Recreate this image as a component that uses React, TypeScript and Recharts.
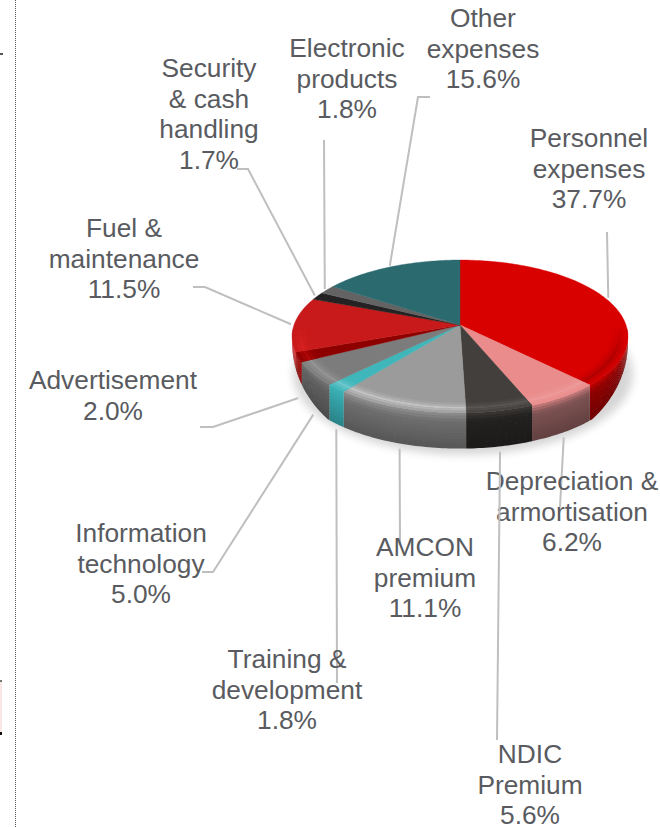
import { Pie, PieChart } from "recharts"

// values, clockwise from 12 o'clock
const categories = [
  "Personnel\nexpenses",
  "Depreciation &\narmortisation",
  "NDIC\nPremium",
  "AMCON\npremium",
  "Training &\ndevelopment",
  "Information\ntechnology",
  "Advertisement",
  "Fuel &\nmaintenance",
  "Security\n& cash\nhandling",
  "Electronic\nproducts",
  "Other\nexpenses",
]
const shares = [37.7, 6.2, 5.6, 11.1, 1.8, 5.0, 2.0, 11.5, 1.7, 1.8, 15.6]

const faceColors = [
  "#d90000", "#ea8c8c", "#433f3c", "#9b9b9b", "#3fb6ba", "#7c7c7c",
  "#8e0000", "#c81a1a", "#242222", "#636363", "#2b6a6f",
]
const sideColors = [
  "#8f0000", "#7d5252", "#232120", "#6e6e6e", "#35a6ab", "#5f5f5f",
  "#a00000", "#c81818", "#1a1a1a", "#444444", "#1f4d50",
]
// what the bevel along the front rim fades towards, and how far
const rimTints = [
  "#800000", "#ffffff", "#ffffff", "#ffffff", "#ffffff", "#ffffff",
  "#d01010", "#ee2a2a", "#000000", "#000000", "#000000",
]
const rimStrength = [0.45, 0.12, 0.12, 0.4, 0.25, 0.18, 0.5, 0.5, 0, 0, 0]

const chartData = categories.map((name, i) => ({ name, value: shares[i] }))

// where each label sits and the bend points of its leader line
const labelLayout = [
  { x: 589, y: 138, bends: [[607, 232]] },
  { x: 572, y: 481, bends: [[560, 507]] },
  { x: 530, y: 754, bends: [[497, 740]] },
  { x: 425, y: 547, bends: [[400, 545]] },
  { x: 287, y: 659, bends: [[337, 683]] },
  { x: 141, y: 533, bends: [[213, 572], [202, 572]] },
  { x: 113, y: 380, bends: [[213, 427], [200, 427]] },
  { x: 124, y: 228, bends: [[205, 287], [193, 287]] },
  { x: 209, y: 68, bends: [[248, 169], [237, 169]] },
  { x: 347, y: 48, bends: [[324, 140]] },
  { x: 483, y: 18, bends: [[418, 97], [430, 97]] },
]

const WIDTH = 660
const HEIGHT = 827
const CX = 460
const CY = 325
const RADIUS = 166
const SQUASH = 0.45 // vertical scale of the tilted disc
const TILT = -0.15 // perspective strength
const DEPTH = 35
const LINE_GAP = 30.7
const TEXT_COLOR = "#595b60"
const LEADER_COLOR = "#bfbfbf"

// part of the rim that faces the viewer, degrees clockwise from 12 o'clock
const FRONT_FROM = 93
const FRONT_TO = 267

// tilted disc: t is degrees clockwise from 12 o'clock, r is 0..1
function project(r: number, t: number, drop = 0): [number, number] {
  const rad = (t * Math.PI) / 180
  const c = Math.sin(rad) * r
  const s = -Math.cos(rad) * r
  const w = 1 + TILT * s
  return [CX + (RADIUS * c) / w, CY + (RADIUS * SQUASH * s) / w + drop]
}

// the side wall rounds off towards the left and right ends of the disc
function frontWeight(t: number) {
  const s = -Math.cos((t * Math.PI) / 180)
  return Math.min(1, Math.max(0, (s - 0.05) / 0.65))
}

function arc(r: number, from: number, to: number, depthFrac = 0) {
  const pts: [number, number][] = []
  const steps = Math.max(1, Math.ceil(Math.abs(to - from)))
  for (let i = 0; i <= steps; i++) {
    const t = from + ((to - from) * i) / steps
    pts.push(project(r, t, DEPTH * depthFrac * frontWeight(t)))
  }
  return pts
}

function toPath(pts: [number, number][]) {
  return "M" + pts.map((p) => `${p[0].toFixed(1)},${p[1].toFixed(1)}`).join("L") + "Z"
}

function mix(a: string, b: string, f: number) {
  const ch = (h: string, i: number) => parseInt(h.slice(1 + i * 2, 3 + i * 2), 16)
  const out = [0, 1, 2].map((i) => Math.round(ch(a, i) + (ch(b, i) - ch(a, i)) * f))
  return "#" + out.map((v) => v.toString(16).padStart(2, "0")).join("")
}

function SliceShape(props: any) {
  const { startAngle, endAngle, index } = props
  const t1 = 90 - startAngle
  const t2 = 90 - endAngle
  const face = faceColors[index]
  const side = sideColors[index]
  const f1 = Math.max(t1, FRONT_FROM)
  const f2 = Math.min(t2, FRONT_TO)
  const hasFront = f2 > f1

  const strips: any[] = []
  const bevel: any[] = []
  if (hasFront) {
    const N = 12
    for (let i = 0; i < N; i++) {
      const f = i / N
      const shade =
        f < 0.2 ? mix(face, side, 0.4 + f * 3) : mix(side, "#000000", (f - 0.2) * 0.28)
      strips.push(
        <path
          key={`s${i}`}
          d={toPath([...arc(1, f1, f2, f), ...arc(1, f2, f1, f + 1 / N + 0.02)])}
          fill={shade}
        />
      )
    }
    // bevel along the rim, fading out towards the ends of the front arc
    const bands = [0.9, 0.92, 0.94, 0.96, 0.98, 1]
    const glow = [0.2, 0.5, 1, 0.6, 0.2]
    const strength = rimStrength[index]
    for (let t = f1; t < f2 && strength > 0; t += 4) {
      const end = Math.min(f2, t + 4.2)
      const w = Math.min(1, (frontWeight(t + 2) + 0.08) * 1.6)
      for (let i = 0; i < bands.length - 1; i++) {
        bevel.push(
          <path
            key={`b${t}-${i}`}
            d={toPath([...arc(bands[i], t, end), ...arc(bands[i + 1], end, t)])}
            fill={mix(face, rimTints[index], glow[i] * strength * w)}
          />
        )
      }
    }
  }

  return (
    <g>
      {strips}
      <path d={toPath([[CX, CY], ...arc(1, t1, t2)])} fill={face} stroke={face} strokeWidth={0.4} />
      {bevel}
    </g>
  )
}

function SliceLabel(props: any) {
  const { index, midAngle, name, value } = props
  const layout = labelLayout[index]
  const t = 90 - midAngle
  const front = -Math.cos((t * Math.PI) / 180) > 0.2
  const start = front ? project(1, t, 41) : project(1.02, t)
  const pts = [start, ...layout.bends]
  const lines = [...String(name).split("\n"), `${value.toFixed(1)}%`]
  return (
    <g>
      <polyline
        points={pts.map((p) => p.join(",")).join(" ")}
        fill="none"
        stroke={LEADER_COLOR}
        strokeWidth={2}
      />
      <text
        textAnchor="middle"
        fontFamily="'Liberation Sans', Arial, sans-serif"
        fontSize={26.3}
        fill={TEXT_COLOR}
      >
        {lines.map((line, i) => (
          <tspan key={i} x={layout.x} y={layout.y + 9 + i * LINE_GAP}>
            {line}
          </tspan>
        ))}
      </text>
    </g>
  )
}

export default function App() {
  return (
    <div style={{ position: "absolute", left: 0, top: 0, width: WIDTH, height: HEIGHT, background: "#fff", overflow: "hidden" }}>
      {/* page furniture left of the chart */}
      <div style={{ position: "absolute", left: 15, top: 0, height: HEIGHT, borderLeft: "1px dotted #555" }} />
      <div style={{ position: "absolute", left: 0, top: 53, width: 3, height: 2, background: "#555" }} />
      <div style={{ position: "absolute", left: 0, top: 680, width: 2, height: 54, background: "#fbe6e6" }} />
      <div style={{ position: "absolute", left: 0, top: 680, width: 2, height: 2, background: "#777" }} />
      <div style={{ position: "absolute", left: 0, top: 732, width: 2, height: 3, background: "#111" }} />

      <svg width={WIDTH} height={HEIGHT} style={{ position: "absolute", left: 0, top: 0 }}>
        <defs>
          <filter id="pieShadow" x="-20%" y="-20%" width="140%" height="140%">
            <feGaussianBlur stdDeviation="4" />
          </filter>
        </defs>
        <ellipse
          cx={CX + 3}
          cy={CY + 49}
          rx={RADIUS + 4}
          ry={RADIUS * SQUASH + 6}
          fill="#000"
          opacity={0.16}
          filter="url(#pieShadow)"
        />
      </svg>

      <div style={{ position: "absolute", left: 0, top: 0 }}>
        <PieChart width={WIDTH} height={HEIGHT} margin={{ top: 0, right: 0, bottom: 0, left: 0 }}>
          <Pie
            data={chartData}
            dataKey="value"
            nameKey="name"
            cx={CX}
            cy={CY}
            outerRadius={RADIUS}
            startAngle={90}
            endAngle={-270}
            stroke="none"
            shape={SliceShape}
            label={SliceLabel}
            labelLine={false}
            isAnimationActive={false}
          />
        </PieChart>
      </div>
    </div>
  )
}
